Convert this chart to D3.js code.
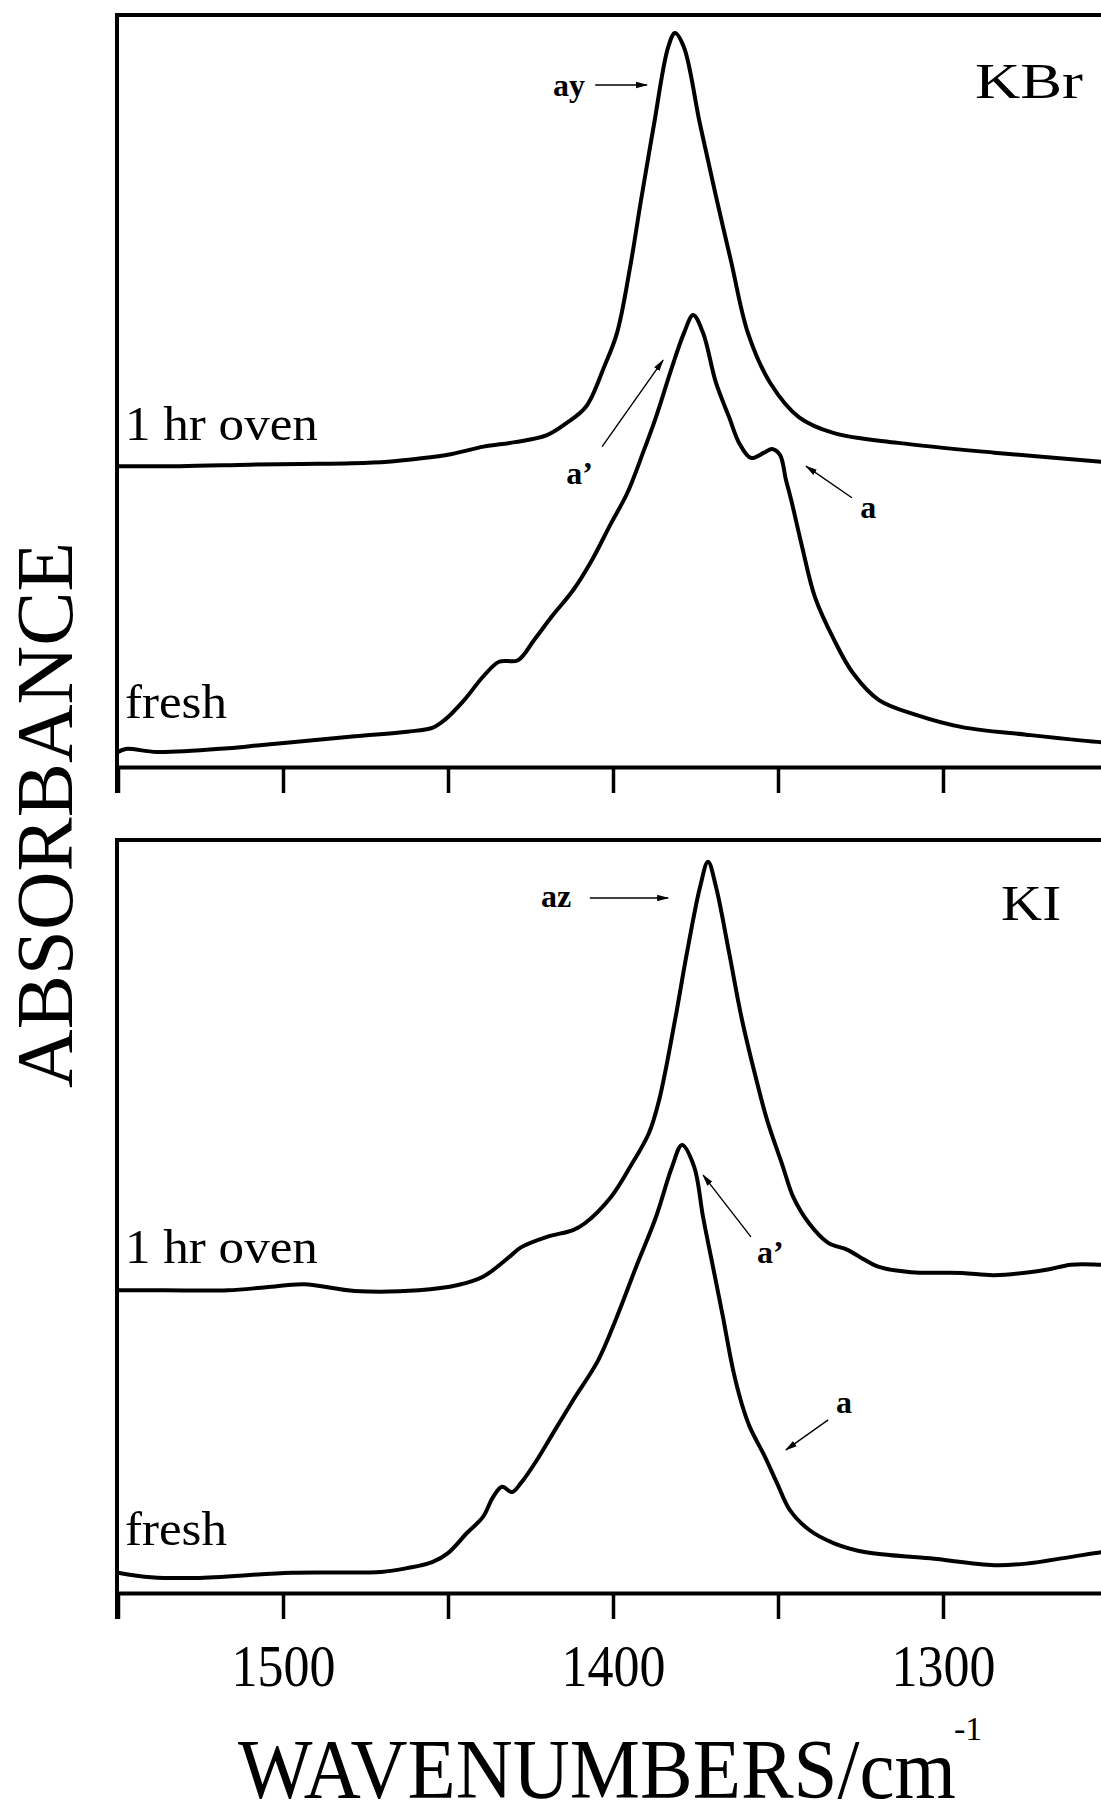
<!DOCTYPE html>
<html><head><meta charset="utf-8">
<script src="https://cdn.jsdelivr.net/npm/d3@7/dist/d3.min.js"></script>
<style>
html,body{margin:0;padding:0;background:#fff;}
svg{display:block;}
text{font-family:"Liberation Serif","DejaVu Serif",serif;fill:#000;}
</style></head><body>
<svg id="chart" width="1101" height="1817"></svg>
<script>
// ---------------- DATA ----------------
const panelNames = ["KBr", "KI"];
const seriesNames = ["1 hr oven", "fresh"];
const xTickValues = [1550, 1500, 1450, 1400, 1350, 1300, 1250];
const xTickLabels = [1500, 1400, 1300];
const xAxisTitle = "WAVENUMBERS/cm";
const xAxisTitleSup = "-1";
const yAxisTitle = "ABSORBANCE";

// [wavenumber (cm-1), absorbance (arb. units, offset as plotted)]
const kbrOven = [[1550,40.0],[1531.2,40.0],[1510.2,40.2],[1495.2,40.3],[1479.2,40.4],[1468.2,40.6],[1459.2,41.0],[1449.2,41.6],[1439.2,42.6],[1429.7,43.2],[1420.2,44.1],[1414.2,45.7],[1408.2,47.9],[1402.7,53.2],[1398.8,57.7],[1394.8,66.5],[1391.5,75.4],[1387.6,85.4],[1383.3,95.7],[1381.2,97.6],[1378.5,95.7],[1373.6,85.4],[1368.8,75.9],[1364.2,67.2],[1359.1,57.7],[1352.4,51.1],[1343.6,46.5],[1333,44.4],[1313.6,43.1],[1284.5,41.8],[1252.1,40.6],[1250,40.5]];
const kbrFresh = [[1550,2.0],[1547.6,2.4],[1538.2,2.0],[1516.7,2.5],[1507,2.9],[1497.3,3.3],[1478.2,4.1],[1462.4,4.7],[1454.8,5.2],[1450.9,6.3],[1445.1,8.9],[1439.4,12.0],[1434.5,14.0],[1428.8,14.2],[1423.9,16.9],[1418.2,20.2],[1412.1,23.5],[1406.4,27.5],[1400.6,32.4],[1395.7,36.4],[1390.9,41.8],[1387,46.5],[1382.1,53.2],[1378.5,57.7],[1375.7,60.1],[1372.7,57.7],[1368.8,51.1],[1364.8,46.5],[1361.8,43.1],[1358.2,41.1],[1354.2,41.8],[1351.8,42.3],[1349.4,41.5],[1347.6,38.2],[1346,35.5],[1342.7,29.3],[1338.8,22.6],[1333,16.9],[1327.3,12.5],[1319.4,8.9],[1307.9,6.9],[1294.2,5.3],[1274.8,4.3],[1252.1,3.3],[1250,3.3]];
const kiOven = [[1550,40.2],[1536,40.2],[1516.7,40.2],[1505.1,40.6],[1493.6,41.0],[1478.2,40.1],[1458.8,40.2],[1447,40.9],[1439.4,42.0],[1431.5,44.6],[1427.9,45.9],[1420,47.3],[1412.1,48.2],[1408.5,49.1],[1400.6,52.6],[1394.8,56.6],[1389.1,61.1],[1386,65.5],[1381.2,76.1],[1377.6,85.0],[1373.6,93.8],[1371.2,97.1],[1368.8,93.8],[1364.8,85.0],[1360.9,76.1],[1356,67.2],[1353.3,62.8],[1348.5,56.6],[1345.4,52.6],[1340.6,49.1],[1334.8,46.5],[1329.1,45.6],[1325.1,44.6],[1319.4,43.3],[1309.7,42.6],[1294.2,42.5],[1284.5,42.2],[1269.1,42.9],[1261.2,43.6],[1252.1,43.6],[1250,43.6]];
const kiFresh = [[1550,2.7],[1540,2.1],[1526.4,2.0],[1497.3,2.7],[1470.3,2.8],[1462.4,3.3],[1454.8,4.1],[1450,5.3],[1444.2,8.0],[1439.4,10.1],[1436.4,12.7],[1433.6,14.1],[1430.6,13.4],[1427.9,14.6],[1423,17.7],[1418.2,21.2],[1412.1,25.6],[1404.5,30.9],[1398.8,36.7],[1393,43.3],[1387,49.9],[1382.1,56.6],[1379.1,59.5],[1375.4,56.6],[1372.7,49.9],[1369.7,43.3],[1366.7,36.7],[1363.6,29.6],[1360.9,25.0],[1358.5,22.0],[1354.2,18.3],[1350.3,14.6],[1346.4,11.0],[1340.6,8.4],[1333,6.6],[1323.3,5.4],[1303.9,4.6],[1284.5,3.7],[1274.8,3.9],[1261.2,4.8],[1252.1,5.4],[1250,5.5]];

// labels: [text, wavenumber, absorbance]
const kbrLabels = [["1 hr oven",1547.9,43.5],["fresh",1547.9,6.5]];
const kiLabels  = [["1 hr oven",1547.9,43.8],["fresh",1547.9,6.4]];
// panel names: [wavenumber at right end, absorbance]
const panelNamePos = [[1257.6,89.0],[1264.2,89.4]];
// annotations: [text, textW, textA, arrowFromW, arrowFromA, arrowToW, arrowToA]
const kbrNotes = [["ay",1418.2,89.2,1405.4,90.7,1389.7,90.7],["a\u2019",1414.2,37.6,1403.3,42.6,1384.8,54.1],["a",1325.1,33.1,1327.6,35.8,1341.5,40.0]];
const kiNotes  = [["az",1421.8,91.1,1407,92.3,1383.3,92.3],["a\u2019",1356.4,43.8,1358.2,47.3,1372.7,55.5],["a",1332.4,23.9,1334.8,23.0,1347.6,19.0]];

// ---------------- DRAWING ----------------
const svg = d3.select("#chart");
const x = d3.scaleLinear().domain([1550, 1250]).range([118, 1108]);
const axisX = 117;

const defs = svg.append("defs");
defs.append("marker").attr("id","arrow").attr("markerUnits","userSpaceOnUse")
  .attr("viewBox","0 0 12 8").attr("markerWidth",12).attr("markerHeight",8)
  .attr("refX",11).attr("refY",4).attr("orient","auto")
  .append("path").attr("d","M0,0.8 L12,4 L0,7.2 Z").attr("fill","#000");

const panels = [
  {name: panelNames[0], top: 15, bottom: 767, series: [kbrOven, kbrFresh], labels: kbrLabels, notes: kbrNotes, showTickLabels: false},
  {name: panelNames[1], top: 840, bottom: 1593, series: [kiOven, kiFresh], labels: kiLabels, notes: kiNotes, showTickLabels: true}
];
const tickLen = 26;

panels.forEach((p, i) => {
  const y = d3.scaleLinear().domain([0, 100]).range([p.bottom, p.top]);
  const g = svg.append("g");
  const clipId = "clip" + i;
  defs.append("clipPath").attr("id", clipId).append("rect")
    .attr("x", axisX).attr("y", p.top).attr("width", 1101 - axisX).attr("height", p.bottom - p.top);

  // top frame line and left axis line
  g.append("line").attr("x1", axisX - 2).attr("x2", 1101).attr("y1", p.top).attr("y2", p.top)
    .attr("stroke", "#000").attr("stroke-width", 4);
  g.append("line").attr("x1", axisX).attr("x2", axisX).attr("y1", p.top - 2).attr("y2", p.bottom + tickLen)
    .attr("stroke", "#000").attr("stroke-width", 4);

  // bottom axis
  const axis = d3.axisBottom(x).tickValues(xTickValues).tickSize(tickLen).tickSizeOuter(0)
    .tickPadding(24)
    .tickFormat(d => (p.showTickLabels && xTickLabels.includes(d)) ? d3.format("d")(d) : "");
  const ax = g.append("g").attr("transform", `translate(0,${p.bottom})`).call(axis);
  ax.select(".domain").attr("stroke", "#000").attr("stroke-width", 4);
  ax.selectAll(".tick line").attr("stroke", "#000").attr("stroke-width", 3.5);
  ax.selectAll(".tick text").attr("fill", "#000")
    .style("font-family", '"Liberation Serif", serif').style("font-size", "60px")
    .attr("dy", "0.72em")
    .each(function(d){ if (p.showTickLabels && xTickLabels.includes(d)) d3.select(this).attr("textLength", 104).attr("lengthAdjust","spacingAndGlyphs"); });

  // curves
  const line = d3.line().x(d => x(d[0])).y(d => y(d[1])).curve(d3.curveCatmullRom.alpha(0.5));
  g.append("g").attr("clip-path", `url(#${clipId})`).selectAll("path").data(p.series).join("path")
    .attr("d", line).attr("fill", "none").attr("stroke", "#000").attr("stroke-width", 4)
    .attr("stroke-linejoin", "round").attr("stroke-linecap", "round");

  // panel name
  g.append("text").attr("x", x(panelNamePos[i][0])).attr("y", y(panelNamePos[i][1]))
    .attr("text-anchor", "end").style("font-size", "50px")
    .attr("textLength", i === 0 ? 108 : 60).attr("lengthAdjust", "spacingAndGlyphs")
    .text(p.name);

  // series labels
  p.labels.forEach(l => {
    g.append("text").attr("x", x(l[1])).attr("y", y(l[2])).style("font-size", "48px")
      .attr("textLength", l[0] === seriesNames[1] ? 102 : 193).attr("lengthAdjust", "spacingAndGlyphs")
      .text(l[0]);
  });

  // annotations
  p.notes.forEach(n => {
    g.append("text").attr("x", x(n[1])).attr("y", y(n[2])).style("font-size", "32px")
      .style("font-weight", "bold").text(n[0]);
    g.append("line").attr("x1", x(n[3])).attr("y1", y(n[4])).attr("x2", x(n[5])).attr("y2", y(n[6]))
      .attr("stroke", "#000").attr("stroke-width", 1.4).attr("marker-end", "url(#arrow)");
  });
});

// axis titles
svg.append("text").attr("transform", "translate(238,1798) scale(0.94,1)").style("font-size", "84px")
  .text(xAxisTitle);
svg.append("text").attr("x", 954).attr("y", 1740).style("font-size", "34px").text(xAxisTitleSup);

svg.append("text").attr("transform", "translate(72,815) rotate(-90)")
  .attr("text-anchor", "middle").style("font-size", "80px")
  .attr("textLength", 546).attr("lengthAdjust", "spacingAndGlyphs").text(yAxisTitle);
</script>
</body></html>
